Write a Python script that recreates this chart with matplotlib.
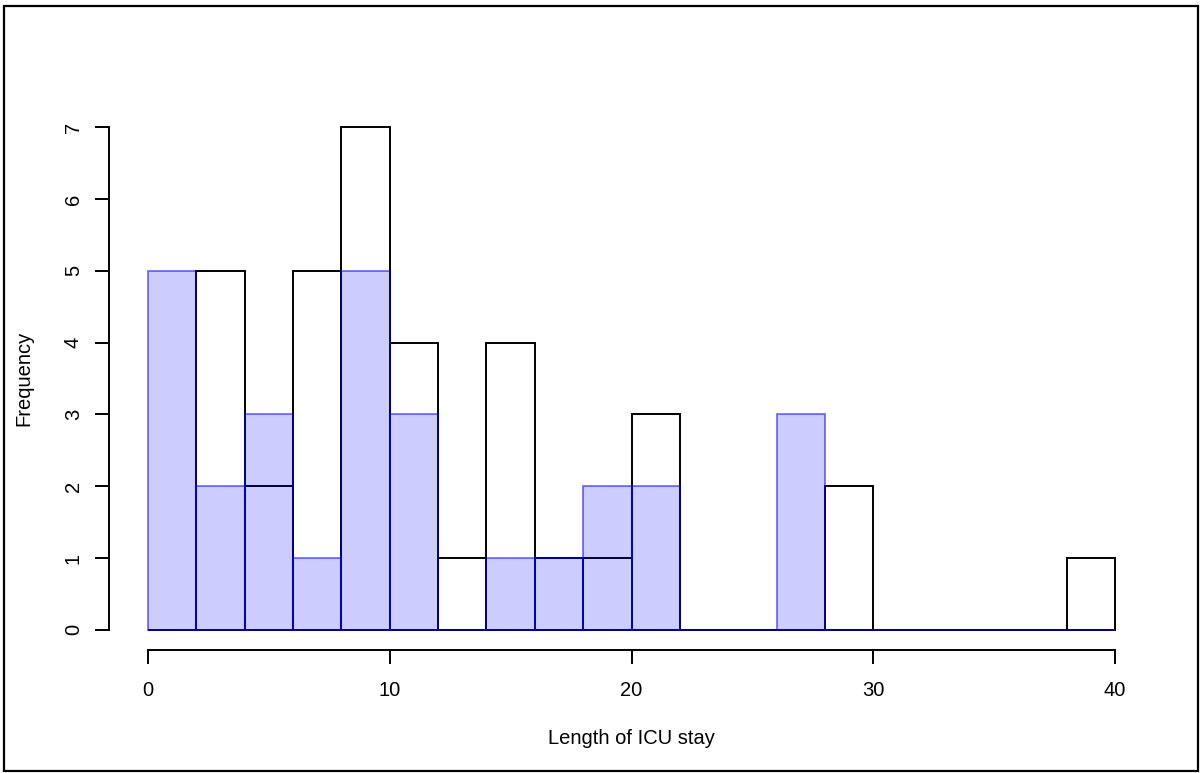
import matplotlib
matplotlib.use("Agg")
import matplotlib.pyplot as plt
from matplotlib.patches import Rectangle
import numpy as np

# Data
bin_edges = list(range(0, 42, 2))
black_counts = [0, 5, 2, 5, 7, 4, 1, 4, 1, 1, 3, 0, 0, 0, 2, 0, 0, 0, 0, 1]
blue_counts = [5, 2, 3, 1, 5, 3, 0, 1, 1, 2, 2, 0, 0, 3, 0, 0, 0, 0, 0, 0]
x_ticks = [0, 10, 20, 30, 40]
y_ticks = [0, 1, 2, 3, 4, 5, 6, 7]
x_label = "Length of ICU stay"
y_label = "Frequency"

plt.rcParams['font.family'] = ['Liberation Sans', 'DejaVu Sans']

W, H = 1201, 773
fig = plt.figure(figsize=(W / 100, H / 100), dpi=100)

# axes in pixel coordinates (R style, 4% padding)
ax_left, ax_right = 109.3, 1153.7
ax_top, ax_bottom = 107, 650
ax = fig.add_axes([ax_left / W, 1 - ax_bottom / H, (ax_right - ax_left) / W, (ax_bottom - ax_top) / H])
ax.set_xlim(-1.6, 41.6)
ax.set_ylim(-0.28, 7.28)

left = np.array(bin_edges[:-1])
widths = np.diff(bin_edges)

ax.bar(left, black_counts, width=widths, align='edge', facecolor='none',
       edgecolor='black', linewidth=1.4)
ax.bar(left, blue_counts, width=widths, align='edge', facecolor=(0, 0, 1, 0.2),
       edgecolor=(0, 0, 1, 0.5), linewidth=1.4)

for side in ['top', 'right']:
    ax.spines[side].set_visible(False)
ax.spines['left'].set_bounds(0, 7)
ax.spines['bottom'].set_bounds(0, 40)
for side in ['left', 'bottom']:
    ax.spines[side].set_linewidth(1.4)

fs = 14.5
ax.set_xticks(x_ticks)
ax.set_yticks(y_ticks)
ax.set_yticklabels([str(v) for v in y_ticks], rotation=90, va='center')
ax.tick_params(axis='both', direction='out', length=10, width=1.4, labelsize=fs)
ax.tick_params(axis='x', pad=12)
ax.tick_params(axis='y', pad=9)

ax.set_xlabel(x_label, fontsize=fs, labelpad=21)
ax.set_ylabel(y_label, fontsize=fs, labelpad=22)

# outer frame of the screenshot
fig.add_artist(Rectangle((3.5 / W, 2.5 / H), (W - 7) / W, (H - 8) / H, transform=fig.transFigure,
                         fill=False, edgecolor='black', linewidth=1.6))

fig.savefig("out.png", dpi=100)
